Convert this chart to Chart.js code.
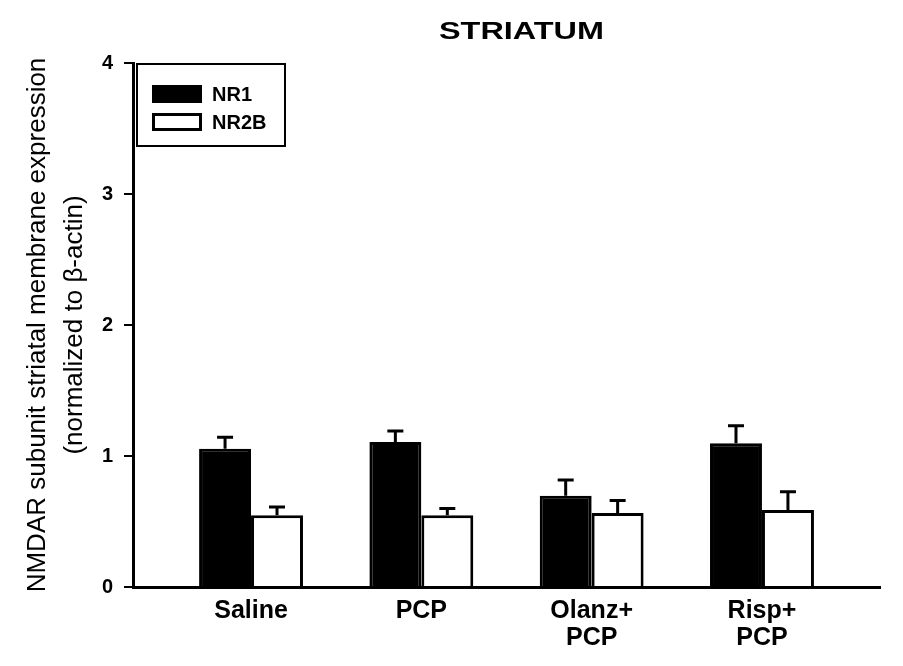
<!DOCTYPE html>
<html>
<head>
<meta charset="utf-8">
<title>Striatum</title>
<script src="https://cdn.jsdelivr.net/npm/chart.js@4.4.1/dist/chart.umd.min.js"></script>
<style>
  html, body { margin: 0; padding: 0; background: #fff; overflow: hidden; }
  canvas { display: block; }
</style>
</head>
<body>
<canvas id="chart" width="903" height="666"></canvas>
<script>
var groups = [['Saline'], ['PCP'], ['Olanz+', 'PCP'], ['Risp+', 'PCP']];
var groupPos = [1, 2, 3, 4];
var nr1 = [1.056, 1.107, 0.697, 1.097];
var nr1Err = [0.087, 0.083, 0.12, 0.133];
var nr2b = [0.547, 0.547, 0.565, 0.588];
var nr2bErr = [0.063, 0.053, 0.095, 0.139];
var yTicks = [0, 1, 2, 3, 4];
var chartTitle = 'STRIATUM';
var yTitle = ['NMDAR subunit striatal membrane expression', '(normalized to \u03b2-actin)'];

var FONT = '"Liberation Sans", Arial, sans-serif';

function points(vals) {
  return vals.map(function (v, i) { return { x: groupPos[i], y: v }; });
}

// upward-only error bars with a short cap
var errorBars = {
  id: 'errorBars',
  afterDatasetsDraw: function (chart) {
    var ctx = chart.ctx, y = chart.scales.y;
    ctx.save();
    ctx.strokeStyle = '#000';
    ctx.lineWidth = 3;
    chart.data.datasets.forEach(function (ds, di) {
      chart.getDatasetMeta(di).data.forEach(function (bar, i) {
        var top = y.getPixelForValue(ds.data[i].y + ds.errors[i]);
        ctx.beginPath();
        ctx.moveTo(bar.x, bar.y);
        ctx.lineTo(bar.x, top);
        ctx.moveTo(bar.x - 8, top);
        ctx.lineTo(bar.x + 8, top);
        ctx.stroke();
      });
    });
    ctx.restore();
  }
};

// boxed legend inside the top-left corner of the plot
var boxLegend = {
  id: 'boxLegend',
  afterDraw: function (chart) {
    var ctx = chart.ctx, a = chart.chartArea;
    var bx = a.left + 4, by = a.top + 1;
    ctx.save();
    ctx.fillStyle = '#fff';
    ctx.fillRect(bx, by, 148, 82);
    ctx.lineWidth = 2;
    ctx.strokeStyle = '#000';
    ctx.strokeRect(bx, by, 148, 82);
    ctx.font = 'bold 20px ' + FONT;
    ctx.textBaseline = 'middle';
    chart.data.datasets.forEach(function (ds, i) {
      var ry = by + 21 + i * 28;
      ctx.fillStyle = ds.backgroundColor;
      ctx.fillRect(bx + 15, ry, 50, 18);
      ctx.lineWidth = 3;
      ctx.strokeRect(bx + 16.5, ry + 1.5, 47, 15);
      ctx.fillStyle = '#000';
      ctx.fillText(ds.label, bx + 75, ry + 10);
    });
    ctx.restore();
  }
};

// wide bold title above the plot
var wideTitle = {
  id: 'wideTitle',
  afterDraw: function (chart) {
    var ctx = chart.ctx, a = chart.chartArea;
    ctx.save();
    ctx.translate((a.left + a.right) / 2 + 15, 32);
    ctx.scale(1.35, 1);
    ctx.font = 'bold 24px ' + FONT;
    ctx.textAlign = 'center';
    ctx.textBaseline = 'middle';
    ctx.fillStyle = '#000';
    ctx.fillText(chartTitle, 0, 0);
    ctx.restore();
  }
};

new Chart(document.getElementById('chart'), {
  type: 'bar',
  data: {
    datasets: [{
      label: 'NR1',
      data: points(nr1),
      errors: nr1Err,
      backgroundColor: '#000',
      borderColor: '#000',
      borderWidth: 3
    }, {
      label: 'NR2B',
      data: points(nr2b),
      errors: nr2bErr,
      backgroundColor: '#fff',
      borderColor: '#000',
      borderWidth: 3
    }]
  },
  options: {
    responsive: false,
    devicePixelRatio: 1,
    animation: false,
    datasets: { bar: { categoryPercentage: 0.61, barPercentage: 1 } },
    layout: { padding: { top: 63, right: 23, bottom: 18, left: 0 } },
    plugins: {
      legend: { display: false },
      tooltip: { enabled: false },
      title: { display: false }
    },
    scales: {
      x: {
        type: 'linear',
        min: 0.307,
        max: 4.693,
        bounds: 'data',
        offset: false,
        grid: { display: false },
        border: { display: true, color: '#000', width: 3 },
        afterBuildTicks: function (s) {
          s.ticks = groupPos.map(function (v) { return { value: v }; });
        },
        afterFit: function (s) { s.height = 61; },
        ticks: {
          autoSkip: false,
          maxRotation: 0,
          padding: 2,
          color: '#000',
          font: { family: FONT, size: 25, weight: 'bold', lineHeight: 1.1 },
          callback: function (v) { return groups[groupPos.indexOf(v)]; }
        }
      },
      y: {
        min: 0,
        max: 4,
        afterBuildTicks: function (s) {
          s.ticks = yTicks.map(function (v) { return { value: v }; });
        },
        afterFit: function (s) { s.width = 133; },
        grid: { display: true, drawOnChartArea: false, drawTicks: true, tickLength: 9, color: '#000', lineWidth: 2 },
        border: { display: true, color: '#000', width: 3 },
        ticks: {
          padding: 11,
          color: '#000',
          font: { family: FONT, size: 20, weight: 'bold' }
        },
        title: {
          display: true,
          text: yTitle,
          color: '#000',
          font: { family: FONT, size: 26, lineHeight: 1.4 },
          padding: { top: 20, bottom: 0 }
        }
      }
    }
  },
  plugins: [errorBars, boxLegend, wideTitle]
});
</script>
</body>
</html>
